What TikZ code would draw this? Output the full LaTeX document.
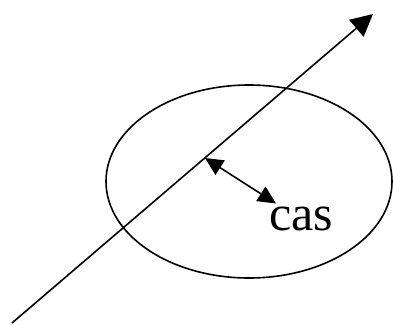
\documentclass[tikz,border=0pt]{standalone}
\usepackage{fontspec}
\setmainfont{Liberation Serif}
\usetikzlibrary{arrows.meta,shapes.geometric}
\begin{document}
\begin{tikzpicture}[x=1pt,y=-1pt,
  stroke/.style={line width=1.6pt,black},
  bighead/.style={-{Triangle[length=22pt,width=22pt]}},
  dblhead/.style={{Triangle[length=18pt,width=17pt]}-{Triangle[length=18pt,width=17pt]}}]
\useasboundingbox (0,0) rectangle (393,324);
\node[draw,stroke,ellipse,minimum width=286pt,minimum height=193pt,inner sep=0pt] (ell) at (249,181.5) {};
\coordinate (start) at (12,323);
\coordinate (tip) at (373,14);
\draw[stroke,bighead] (start) -- (tip);
\coordinate (a1) at (205,158);
\coordinate (a2) at (276,203.5);
\draw[stroke,dblhead] (a1) -- (a2);
\node[anchor=base west,inner sep=0pt,font=\fontsize{50}{52}\selectfont] (cas) at (269,230) {cas};
\end{tikzpicture}
\end{document}
